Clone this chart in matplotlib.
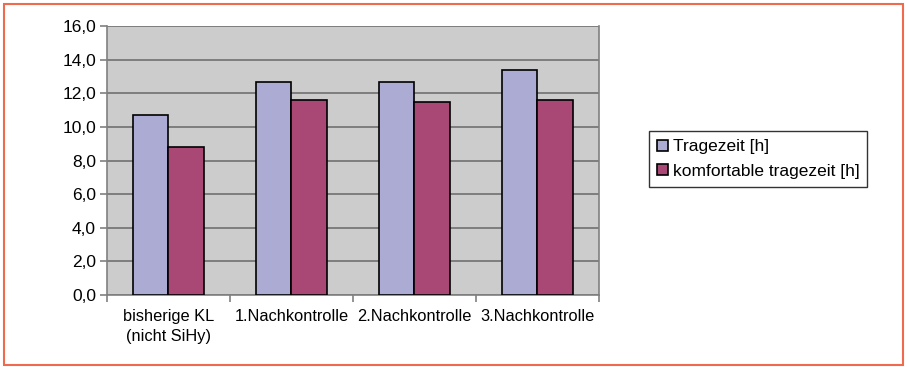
import matplotlib
matplotlib.use("Agg")
import matplotlib.pyplot as plt
import numpy as np
from matplotlib.patches import Rectangle
from matplotlib.ticker import FuncFormatter, MultipleLocator

plt.rcParams['font.family'] = ['Liberation Sans', 'DejaVu Sans']

categories = ["bisherige KL\n(nicht SiHy)", "1.Nachkontrolle", "2.Nachkontrolle", "3.Nachkontrolle"]
tragezeit = [10.7, 12.7, 12.7, 13.4]
komfortabel = [8.8, 11.6, 11.5, 11.6]
series_names = ["Tragezeit [h]", "komfortable tragezeit [h]"]

fig = plt.figure(figsize=(9.07, 3.67), dpi=100)
ax = fig.add_axes([0.118, 0.196, 0.542, 0.733])

x = np.arange(len(categories))
w = 0.29
ax.bar(x - w / 2, tragezeit, w, color="#ABABD3", edgecolor="black", linewidth=1.2,
       label=series_names[0], zorder=3)
ax.bar(x + w / 2, komfortabel, w, color="#A94874", edgecolor="black", linewidth=1.2,
       label=series_names[1], zorder=3)

ax.set_facecolor("#CCCCCC")
ax.set_ylim(0, 16)
ax.set_xlim(-0.5, len(categories) - 0.5)
ax.yaxis.set_major_locator(MultipleLocator(2))
ax.yaxis.set_major_formatter(FuncFormatter(lambda v, p: f"{v:.1f}".replace(".", ",")))
ax.grid(axis="y", color="#707070", linewidth=1.2, zorder=1)

ax.set_xticks(x)
ax.set_xticklabels(categories, fontsize=11.8, linespacing=1.4)
ax.set_xticks(np.arange(len(categories) + 1) - 0.5, minor=True)
ax.tick_params(axis="x", which="major", length=0, pad=10)
ax.tick_params(axis="x", which="minor", length=5, color="#808080", width=1.2)
ax.tick_params(axis="y", length=5, color="#808080", width=1.2, labelsize=12.5, pad=3)

ax.spines["top"].set_visible(False)
for side in ["left", "bottom", "right"]:
    ax.spines[side].set_color("#808080")
    ax.spines[side].set_linewidth(1.2)

leg = fig.legend(loc="upper left", bbox_to_anchor=(0.716, 0.642), fontsize=12.5,
                 frameon=True, fancybox=False, edgecolor="black", handlelength=0.6,
                 handleheight=0.6, handletextpad=0.3, borderpad=0.45, labelspacing=0.55,
                 borderaxespad=0)
leg.get_frame().set_linewidth(1.0)

fig.patches.append(Rectangle((4 / 907, 2 / 367), 899 / 907, 361 / 367,
                             transform=fig.transFigure, fill=False,
                             edgecolor="#F06A50", linewidth=1.5))

fig.savefig("out.png", dpi=100)
